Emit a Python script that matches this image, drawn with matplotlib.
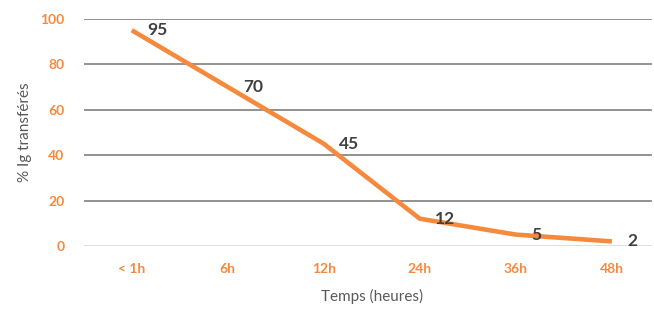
import matplotlib
matplotlib.use("Agg")
import matplotlib.pyplot as plt

categories = ["< 1h", "6h", "12h", "24h", "36h", "48h"]
values = [95, 70, 45, 12, 5, 2]
yticks = [0, 20, 40, 60, 80, 100]

orange = "#F58A3E"
dark = "#404040"

plt.rcParams["font.family"] = ["Lato", "DejaVu Sans"]

fig = plt.figure(figsize=(6.54, 3.09), dpi=100)
ax = fig.add_axes([0.128, 0.204, 0.881, 0.735])

x = list(range(len(categories)))
ax.plot(x, values, color=orange, linewidth=3.3, solid_capstyle="butt", zorder=3)

for xi, v in zip(x, values):
    ax.annotate(str(v), (xi, v), xytext=(11, 0), textcoords="offset points",
                ha="left", va="center", fontsize=12.5, fontweight="bold", color=dark, zorder=4)

ax.set_xlim(-0.5, 5.5)
ax.set_ylim(0, 100)
ax.set_yticks(yticks)
ax.set_xticks(x)
ax.set_xticklabels(categories)

for y in yticks[1:]:
    ax.axhline(y, xmax=0.985, color="#7f7f7f", linewidth=1.2, zorder=1)
ax.axhline(0, xmax=0.985, color="#d9d9d9", linewidth=1.2, zorder=1)

for s in ax.spines.values():
    s.set_visible(False)
ax.tick_params(length=0)
ax.tick_params(axis="x", pad=12)
ax.tick_params(axis="y", pad=14)
for lab in ax.get_xticklabels() + ax.get_yticklabels():
    lab.set_color(orange)
    lab.set_fontweight("bold")
    lab.set_fontsize(10)

ax.set_xlabel("Temps (heures)", color="#595959", fontsize=11, labelpad=10)
ax.set_ylabel("% Ig transférés", color="#595959", fontsize=11, labelpad=6)

fig.savefig("out.png", dpi=100)
